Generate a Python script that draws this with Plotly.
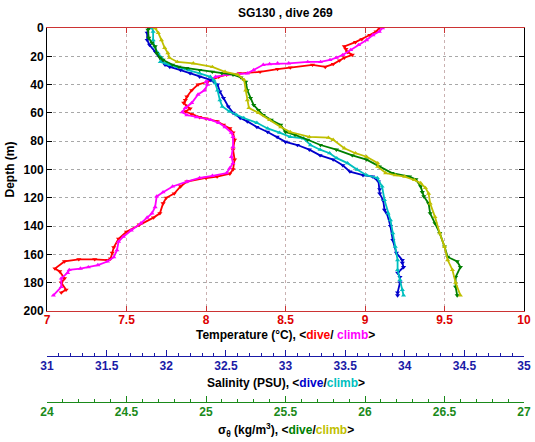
import plotly.graph_objects as go

# ---------------- data ----------------
# Temperature, dive (red)
temp_dive_depth = [0, 2.5, 5, 8, 10, 13, 15, 17, 19, 21, 23, 25.5, 27.5, 26, 28, 29, 31, 32, 33, 34.5,
                   38, 40, 44, 48.5, 51, 53, 55, 57, 59, 61, 63, 64, 66, 68.5, 71, 74, 79, 86, 93, 100,
                   103, 105, 106, 108.5, 112, 117, 120, 124, 131, 134, 139, 144, 149, 155, 159, 163,
                   164, 163.5, 163.5, 165, 170, 172, 177, 180, 185, 187]
temp_dive = [9.09, 9.07, 9.03, 8.98, 8.94, 8.87, 8.88, 8.89, 8.92, 8.87, 8.84, 8.80, 8.75, 8.67, 8.53,
             8.45, 8.34, 8.21, 8.13, 8.08, 8.01, 7.95, 7.91, 7.88, 7.87, 7.86, 7.88, 7.90, 7.87, 7.91,
             7.96, 8.00, 8.07, 8.11, 8.15, 8.17, 8.18, 8.17, 8.18, 8.17, 8.15, 8.07, 8.00, 7.88, 7.84,
             7.80, 7.75, 7.73, 7.71, 7.67, 7.58, 7.50, 7.45, 7.42, 7.41, 7.40, 7.38, 7.30, 7.20, 7.11,
             7.05, 7.08, 7.11, 7.09, 7.12, 7.09]

# Temperature, climb (magenta)
temp_climb_depth = [0, 2.5, 5, 8.5, 12, 15.5, 19, 21, 22.6, 24, 24, 25, 25, 25.5, 26, 29.7, 32, 32.5, 33,
                    34.5, 38, 40, 44, 47, 53, 56.5, 59.5, 61.5, 63, 65, 67, 70, 74, 77, 84, 91, 95.5,
                    99, 102.5, 104.5, 106, 108.5, 112, 116, 119, 126.5, 131, 134, 138, 143, 147.5, 151,
                    157, 162, 165, 167.5, 169, 170, 171, 173, 177, 183, 189]
temp_climb = [9.11, 9.09, 9.05, 9.01, 8.96, 8.91, 8.86, 8.82, 8.78, 8.72, 8.64, 8.52, 8.45, 8.40, 8.36,
              8.30, 8.26, 8.20, 8.13, 8.06, 8.00, 8.01, 7.99, 7.95, 7.91, 7.87, 7.85, 7.88, 7.94, 8.03,
              8.08, 8.12, 8.16, 8.17, 8.17, 8.16, 8.17, 8.15, 8.13, 8.04, 7.96, 7.88, 7.79, 7.73, 7.69,
              7.68, 7.66, 7.63, 7.59, 7.53, 7.48, 7.45, 7.44, 7.42, 7.38, 7.32, 7.26, 7.21, 7.14, 7.13,
              7.09, 7.09, 7.04]

# Salinity, dive (blue)
sal_dive_depth = [0, 3.5, 8.5, 12, 17, 19, 22.6, 26, 27.5, 29.7, 32, 34.5, 36.7, 40, 45, 49.5, 55.5, 60,
                  63.6, 66, 70, 73.5, 77, 80.5, 82.7, 86, 90, 93, 97, 101.5, 104, 105, 108.5, 114, 117,
                  122, 128.6, 131, 140, 150, 159, 164, 166, 169, 173, 176, 180, 187, 189]
sal_dive = [31.85, 31.84, 31.84, 31.86, 31.91, 31.93, 31.96, 31.99, 32.03, 32.12, 32.20, 32.28, 32.37,
            32.43, 32.45, 32.48, 32.52, 32.56, 32.62, 32.68, 32.76, 32.85, 32.93, 33.00, 33.10, 33.20,
            33.29, 33.40, 33.48, 33.54, 33.65, 33.73, 33.78, 33.79, 33.79, 33.82, 33.83, 33.85, 33.88,
            33.90, 33.93, 33.98, 33.98, 33.99, 33.94, 33.96, 33.96, 33.94, 33.94]

# Salinity, climb (cyan)
sal_climb_depth = [0, 2.5, 8.5, 13, 17.7, 21, 24, 25, 26, 27.5, 29.7, 32, 34.5, 37, 39, 44, 51, 55.5, 59,
                   61.5, 63.6, 67, 71, 74, 77, 78, 82.7, 86, 88.5, 92, 95.5, 100, 104, 106, 112, 121.5,
                   131, 135.7, 145, 154.5, 164, 171, 178, 185, 189]
sal_climb = [31.88, 31.89, 31.89, 31.90, 31.93, 31.96, 31.95, 32.00, 32.03, 32.09, 32.19, 32.28, 32.37,
             32.40, 32.41, 32.43, 32.45, 32.47, 32.53, 32.59, 32.65, 32.76, 32.85, 32.95, 33.04, 33.15,
             33.21, 33.29, 33.37, 33.43, 33.52, 33.60, 33.68, 33.77, 33.81, 33.83, 33.86, 33.88, 33.90,
             33.92, 33.94, 33.94, 33.96, 33.98, 33.99]

# Sigma-theta, dive (green)
sig_dive_depth = [0, 1.4, 7, 10.6, 13, 17.7, 21, 22.6, 26, 27.5, 28.3, 29.7, 31, 32, 33, 35, 38, 44, 49.5,
                  54.5, 58, 61.5, 65, 68.5, 73.5, 75.6, 79, 82.7, 86, 90, 93, 98, 102.5, 105, 107, 112,
                  116, 119, 124, 131, 138, 145, 154.5, 161.8, 165, 169, 176, 183, 189]
sig_dive = [24.64, 24.635, 24.64, 24.66, 24.68, 24.69, 24.71, 24.73, 24.79, 24.83, 24.88, 24.96, 25.04,
            25.10, 25.17, 25.22, 25.25, 25.26, 25.28, 25.30, 25.33, 25.36, 25.41, 25.47, 25.50, 25.56,
            25.64, 25.72, 25.82, 25.92, 26.01, 26.09, 26.17, 26.28, 26.32, 26.35, 26.36, 26.37, 26.40,
            26.41, 26.44, 26.47, 26.50, 26.52, 26.58, 26.60, 26.57, 26.57, 26.58]

# Sigma-theta, climb (olive yellow)
sig_climb_depth = [0, 3.5, 8.5, 14, 17.7, 21, 24, 25, 27.5, 31, 33, 36.7, 44, 51, 56.5, 60, 65, 70, 73.5,
                   77, 77.5, 79, 85, 88.5, 91, 95.5, 98, 102.5, 104, 105, 107.4, 109.6, 113, 117, 124,
                   133.5, 145, 154.5, 164, 171, 180, 189]
sig_climb = [24.68, 24.70, 24.72, 24.74, 24.76, 24.77, 24.82, 24.92, 25.04, 25.12, 25.20, 25.24, 25.25,
             25.26, 25.27, 25.33, 25.40, 25.47, 25.53, 25.65, 25.77, 25.80, 25.87, 25.94, 26.01, 26.08,
             26.08, 26.13, 26.19, 26.25, 26.31, 26.35, 26.38, 26.40, 26.41, 26.44, 26.47, 26.50, 26.52,
             26.55, 26.57, 26.60]

temp_ticks = [7, 7.5, 8, 8.5, 9, 9.5, 10]
sal_ticks = [31, 31.5, 32, 32.5, 33, 33.5, 34, 34.5, 35]
sig_ticks = [24, 24.5, 25, 25.5, 26, 26.5, 27]
depth_ticks = [0, 20, 40, 60, 80, 100, 120, 140, 160, 180, 200]

# ---------------- styling ----------------
RED, MAG = "#ff0000", "#ff00ff"
BLUE, CYAN = "#0000cc", "#00bfbf"
GREEN, OLIVE = "#007f00", "#bfbf00"
AX_RED, AX_BLUE, AX_GREEN = "#dd0000", "#1a1aa6", "#1a8a1a"
FONT = "Liberation Sans, Arial, sans-serif"

W, H = 535, 442
ML, MR, MT, MB = 47, 11, 28, 0
PH = H - MT - MB


def py(ypix):
    return (H - MB - ypix) / PH


fig = go.Figure()

series = [
    (temp_dive, temp_dive_depth, "x", RED, "triangle-down"),
    (temp_climb, temp_climb_depth, "x", MAG, "triangle-up"),
    (sal_dive, sal_dive_depth, "x2", BLUE, "triangle-down"),
    (sal_climb, sal_climb_depth, "x2", CYAN, "triangle-up"),
    (sig_dive, sig_dive_depth, "x3", GREEN, "triangle-down"),
    (sig_climb, sig_climb_depth, "x3", OLIVE, "triangle-up"),
]
for xs, ys, ax, col, sym in series:
    fig.add_trace(go.Scatter(
        x=xs, y=ys, xaxis=ax, yaxis="y", mode="lines+markers",
        line=dict(color=col, width=1.8),
        marker=dict(color=col, size=4.5, symbol=sym, line=dict(width=0)),
        showlegend=False, hoverinfo="skip"))

tickfont_common = dict(family=FONT, size=12, weight="bold")

fig.update_layout(
    width=W, height=H,
    margin=dict(l=ML, r=MR, t=MT, b=MB, pad=0, autoexpand=False),
    paper_bgcolor="white", plot_bgcolor="white",
    showlegend=False,
    xaxis=dict(
        domain=[0, 1], anchor="y", range=[7, 10], automargin=False,
        tickvals=temp_ticks, ticktext=[str(t) for t in temp_ticks],
        tickfont=dict(tickfont_common, color=AX_RED),
        ticklabeloverflow="allow", ticklabelstandoff=-2,
        showline=True, linecolor="#cc3333", linewidth=1, mirror="ticks",
        ticks="inside", ticklen=5, tickcolor="#cc3333",
        showgrid=True, gridcolor="#c9b1b1", griddash="dot", gridwidth=1,
        zeroline=False,
    ),
    xaxis2=dict(
        overlaying="x", anchor="free", position=py(356), side="bottom", automargin=False,
        range=[31, 35], tickvals=sal_ticks, ticktext=[str(t) for t in sal_ticks],
        tickfont=dict(tickfont_common, color=AX_BLUE),
        ticklabeloverflow="allow", ticklabelstandoff=-1,
        showline=True, linecolor=AX_BLUE, linewidth=1,
        ticks="inside", ticklen=6, tickcolor=AX_BLUE,
        minor=dict(dtick=0.1, ticks="inside", ticklen=3, tickcolor=AX_BLUE, showgrid=False),
        showgrid=False, zeroline=False,
    ),
    xaxis3=dict(
        overlaying="x", anchor="free", position=py(402), side="bottom", automargin=False,
        range=[24, 27], tickvals=sig_ticks, ticktext=[str(t) for t in sig_ticks],
        tickfont=dict(tickfont_common, color=AX_GREEN),
        ticklabeloverflow="allow", ticklabelstandoff=-1,
        showline=True, linecolor=AX_GREEN, linewidth=1,
        ticks="inside", ticklen=6, tickcolor=AX_GREEN,
        minor=dict(dtick=0.1, ticks="inside", ticklen=3, tickcolor=AX_GREEN, showgrid=False),
        showgrid=False, zeroline=False,
    ),
    yaxis=dict(
        domain=[py(311), 1], anchor="x", range=[200, 0], automargin=False,
        tickvals=depth_ticks, ticktext=[str(t) for t in depth_ticks],
        tickfont=dict(tickfont_common, color="black"),
        ticklabeloverflow="allow",
        showline=True, linecolor="black", linewidth=1, mirror="ticks",
        ticks="inside", ticklen=5, tickcolor="black",
        showgrid=True, gridcolor="#a8a8a8", griddash="dot", gridwidth=1,
        zeroline=False,
    ),
)

ann_font = dict(family=FONT, size=12, color="black", weight="bold")
cx = 0.5
fig.add_annotation(text="SG130 , dive 269", xref="paper", yref="paper", x=cx, y=py(13),
                   xanchor="center", yanchor="middle", showarrow=False, font=ann_font)
fig.add_annotation(text="Depth (m)", xref="paper", yref="paper", x=(10 - ML) / (W - ML - MR),
                   y=(py(311) + 1) / 2, textangle=-90, xanchor="center", yanchor="middle",
                   showarrow=False, font=ann_font)
fig.add_annotation(
    text=("Temperature (°C), &lt;<span style='color:%s'>dive</span>/ "
          "<span style='color:%s'>climb</span>&gt;" % (RED, MAG)),
    xref="paper", yref="paper", x=cx, y=py(335), xanchor="center", yanchor="middle",
    showarrow=False, font=ann_font)
fig.add_annotation(
    text=("Salinity (PSU), &lt;<span style='color:%s'>dive</span>/"
          "<span style='color:%s'>climb</span>&gt;" % (BLUE, CYAN)),
    xref="paper", yref="paper", x=cx, y=py(383), xanchor="center", yanchor="middle",
    showarrow=False, font=ann_font)
fig.add_annotation(
    text=("σ<sub>θ</sub> (kg/m<sup>3</sup>), &lt;<span style='color:%s'>dive</span>/"
          "<span style='color:%s'>climb</span>&gt;" % (GREEN, OLIVE)),
    xref="paper", yref="paper", x=cx, y=py(430), xanchor="center", yanchor="middle",
    showarrow=False, font=ann_font)

fig.write_html("out.html", config={"displayModeBar": False},
               post_script="document.body.style.margin='0px';")
